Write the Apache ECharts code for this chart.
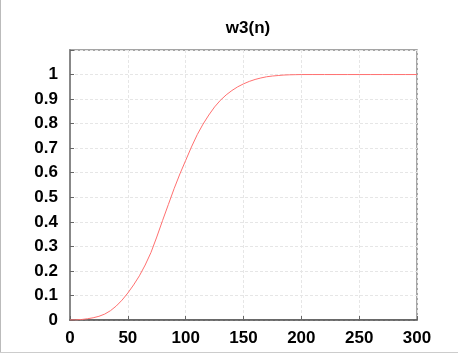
<!DOCTYPE html>
<html>
<head>
<meta charset="utf-8">
<script src="https://cdn.jsdelivr.net/npm/echarts@6/dist/echarts.min.js"></script>
<style>html,body{margin:0;padding:0;background:#fff;}#c{width:458px;height:354px;}</style>
</head>
<body>
<div id="c"></div>
<script>
var titleText = 'w3(n)';
var nValues = [0,5,10,15,20,25,30,35,40,45,50,55,60,65,70,75,80,85,90,95,100,105,110,115,120,125,130,135,140,145,150,155,160,165,170,175,180,185,190,195,200,210,220,230,240,250,260,270,280,290,300];
var wValues = [0,0.0005,0.002,0.005,0.009,0.015,0.024,0.038,0.057,0.081,0.11,0.143,0.18,0.224,0.275,0.338,0.405,0.47,0.535,0.595,0.65,0.705,0.755,0.798,0.835,0.868,0.895,0.917,0.935,0.95,0.962,0.972,0.98,0.986,0.991,0.994,0.996,0.998,0.999,0.9995,1,1,1,1,1,1,1,1,1,1,1];
var xTicks = [0,50,100,150,200,250,300];
var yTicks = [0,0.1,0.2,0.3,0.4,0.5,0.6,0.7,0.8,0.9,1];

var data = nValues.map(function(n,i){return [n,wValues[i]];});
var chart = echarts.init(document.getElementById('c'), null, {renderer:'canvas'});
var labelFont = {fontFamily:'Liberation Sans, Arial, sans-serif', fontWeight:'bold', fontSize:17, color:'#000'};
chart.setOption({
  animation:false,
  title:{text:titleText,left:243,textAlign:'center',top:15,textStyle:{fontFamily:'Liberation Sans, Arial, sans-serif',fontWeight:'bold',fontSize:17,color:'#000'}},
  grid:{left:70,right:41,top:50,bottom:34,show:true,borderColor:'#888',borderWidth:1.5,backgroundColor:'#fff'},
  xAxis:{type:'value',min:xTicks[0],max:xTicks[xTicks.length-1],interval:50,
    axisLine:{show:true,onZero:false,lineStyle:{color:'#555',width:1.5}},
    axisTick:{show:true,inside:true,length:4,lineStyle:{color:'#666'}},
    axisLabel:Object.assign({margin:10,formatter:function(v){return xTicks.indexOf(v)>=0?String(v):'';}},labelFont),
    splitLine:{show:true,lineStyle:{color:'#e6e6e6',type:[3,2],width:1}}},
  yAxis:{type:'value',min:0,max:1.1,interval:0.1,
    axisLine:{show:true,onZero:false,lineStyle:{color:'#888',width:2}},
    axisTick:{show:true,inside:true,length:4,lineStyle:{color:'#666'}},
    axisLabel:Object.assign({margin:12,formatter:function(v){var r=Math.round(v*10)/10;return yTicks.indexOf(r)>=0?String(r):'';}},labelFont),
    splitLine:{show:true,lineStyle:{color:'#e6e6e6',type:[3,2],width:1}}},
  series:[{type:'line',data:data,showSymbol:false,smooth:false,lineStyle:{color:'#ff7070',width:1},itemStyle:{color:'#ff7070'}}],
  graphic:[
    {type:'line',shape:{x1:0.5,y1:0,x2:0.5,y2:353},style:{stroke:'#bbb',lineWidth:1}},
    {type:'line',shape:{x1:0,y1:352.5,x2:458,y2:352.5},style:{stroke:'#ccc',lineWidth:1}}
  ]
});
</script>
</body>
</html>
